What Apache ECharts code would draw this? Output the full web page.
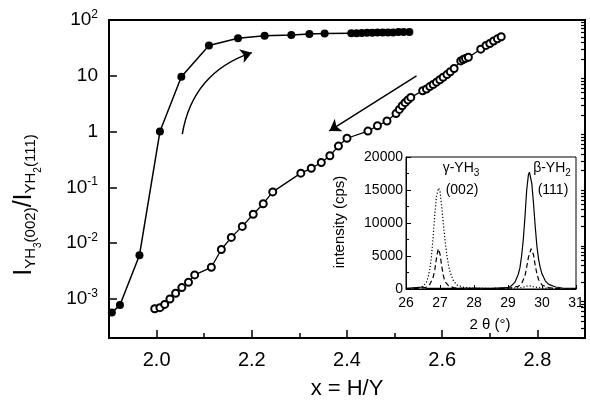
<!DOCTYPE html>
<html><head><meta charset="utf-8">
<script src="https://cdn.jsdelivr.net/npm/echarts@6/dist/echarts.min.js"></script>
<style>html,body{margin:0;padding:0;background:#fff}#c{width:590px;height:408px}</style>
</head><body><div id="c"></div>
<script>
// ---- main plot data: x = H/Y, ratio I_YH3(002)/I_YH2(111)
const loadX = [1.906,1.923,1.964,2.007,2.052,2.110,2.171,2.227,2.283,2.321,2.353,2.409,2.420,2.431,2.442,2.453,2.464,2.475,2.486,2.497,2.508,2.519,2.531];
const loadY = [5.7e-4,7.8e-4,6.1e-3,1.0,9.6,35,47,52,54,56,57,58,58,58.5,59,59,59.5,60,60,60,61,61,61];
const unloadX = [1.996,2.007,2.017,2.028,2.040,2.053,2.067,2.080,2.115,2.136,2.157,2.180,2.203,2.224,2.244,2.303,2.325,2.346,2.364,2.382,2.400,2.444,2.464,2.484,2.503,2.510,2.516,2.522,2.528,2.534,2.559,2.567,2.574,2.581,2.588,2.595,2.602,2.610,2.617,2.625,2.639,2.644,2.649,2.655,2.681,2.692,2.700,2.708,2.716,2.724];
const unloadY = [6.7e-4,7.0e-4,8.0e-4,1.0e-3,1.27e-3,1.6e-3,2.0e-3,2.7e-3,3.7e-3,7.7e-3,1.27e-2,2.0e-2,3.3e-2,5.1e-2,8.3e-2,0.18,0.22,0.28,0.37,0.55,0.76,1.02,1.27,1.55,2.1,2.5,2.9,3.3,3.7,4.1,5.4,5.8,6.4,7.0,7.7,8.5,9.4,10.5,11.8,13.5,18.5,19.5,20.5,21.5,30,35,38,42,46,50];
const xMajorTicks = [2.0,2.2,2.4,2.6,2.8];
const xMinorTicks = [2.1,2.3,2.5,2.7];
const yMajorTicks = [1e-3,1e-2,1e-1,1,10,100];
const yMinorTicks = [2e-4,3e-4,4e-4,5e-4,6e-4,7e-4,8e-4,9e-4,2e-3,3e-3,4e-3,5e-3,6e-3,7e-3,8e-3,9e-3,0.02,0.03,0.04,0.05,0.06,0.07,0.08,0.09,0.2,0.3,0.4,0.5,0.6,0.7,0.8,0.9,2,3,4,5,6,7,8,9,20,30,40,50,60,70,80,90];
// arrows (annotation, data coords)
const arrowUp = [[2.054,0.9],[2.200,26]];
const arrowDown = [[2.546,10],[2.363,1.03]];

// ---- inset data: intensity (cps) vs 2 theta (deg)
const dotX = [26.0,26.2,26.4,26.5,26.6,26.65,26.7,26.75,26.8,26.85,26.9,26.96,27.0,27.05,27.1,27.15,27.2,27.25,27.3,27.4,27.5,27.7,28.0,28.5,29.0,29.4,29.6,29.8,30.0,30.5,31.0];
const dotY = [0,100,200,400,1000,1800,3000,5000,8000,11500,14200,15300,14800,12500,9800,7300,5200,3600,2500,1200,600,250,100,100,100,200,500,300,150,50,0];
const dashX = [26.0,26.5,26.6,26.7,26.8,26.85,26.9,26.95,27.0,27.05,27.1,27.15,27.25,27.4,27.6,28.0,29.0,29.3,29.4,29.5,29.55,29.6,29.68,29.75,29.8,29.85,29.9,30.0,30.2,30.5,31.0];
const dashY = [0,150,300,700,1800,3000,4800,6100,5300,3500,2000,1100,500,200,100,50,100,400,800,2000,3300,4800,6100,5200,3600,2300,1400,600,200,50,0];
const solidX = [26.0,26.5,26.6,27.0,27.5,28.0,28.5,29.0,29.1,29.2,29.3,29.35,29.4,29.45,29.5,29.55,29.6,29.63,29.7,29.75,29.8,29.85,29.9,29.95,30.0,30.1,30.2,30.4,30.6,31.0];
const solidY = [100,300,100,100,100,150,100,200,500,1000,2200,3200,5000,7500,11000,15000,17300,17700,16000,13000,9500,6500,4500,3200,2300,1200,700,300,150,100];

const zip = (a,b) => a.map((v,i) => [v,b[i]]);
const FONT = '"Liberation Sans", Arial, sans-serif';
const K = '#000';

const chart = echarts.init(document.getElementById('c'), null, {renderer:'canvas'});
const supFmt = v => {
  const e = Math.round(Math.log10(v));
  if (e === 0) return '{b|1}';
  if (e === 1) return '{b|10}';
  return '{b|10}{sup|' + e + '}';
};

chart.setOption({
  animation: false,
  backgroundColor: '#fff',
  textStyle: {fontFamily: FONT, color: K},
  grid: [
    {left:109, top:20, right:5, bottom:70, show:true, borderColor:K, borderWidth:2, backgroundColor:'transparent'},
    {left:406, top:157, width:170, height:132, show:true, borderColor:K, borderWidth:1, backgroundColor:'#fff', z:5}
  ],
  xAxis: [
    {type:'value', gridIndex:0, min:1.9, max:2.9, position:'bottom',
     name:'x = H/Y', nameLocation:'middle', nameGap:40, nameTextStyle:{fontSize:22, color:K, fontFamily:FONT},
     axisLine:{lineStyle:{color:K, width:2}},
     axisTick:{inside:true, length:8, customValues:xMajorTicks, lineStyle:{color:K, width:1.5}},
     axisLabel:{customValues:xMajorTicks, formatter:v=>v.toFixed(1), fontSize:20, margin:12, color:K, fontFamily:FONT},
     splitLine:{show:false}},
    {type:'value', gridIndex:0, min:1.9, max:2.9, position:'bottom',
     axisLine:{show:false},
     axisTick:{inside:true, length:5, customValues:xMinorTicks, lineStyle:{color:K, width:1.5}},
     axisLabel:{show:false}, splitLine:{show:false}},
    {type:'value', gridIndex:1, min:26, max:31, interval:1, z:6,
     axisLine:{lineStyle:{color:K, width:1}},
     axisTick:{inside:true, length:4, lineStyle:{color:K}},
     axisLabel:{fontSize:14, margin:7, color:K, fontFamily:FONT},
     splitLine:{show:false}}
  ],
  yAxis: [
    {type:'log', logBase:10, gridIndex:0, min:2e-4, max:100,
     axisLine:{lineStyle:{color:K, width:2}},
     axisTick:{inside:true, length:8, customValues:yMajorTicks, lineStyle:{color:K, width:1.5}},
     axisLabel:{customValues:yMajorTicks, formatter:supFmt, margin:11, color:K,
       rich:{b:{fontSize:19, fontFamily:FONT, color:K}, sup:{fontSize:12, fontFamily:FONT, color:K, padding:[0,0,11,0]}}},
     splitLine:{show:false}},
    {type:'log', logBase:10, gridIndex:0, min:2e-4, max:100,
     axisLine:{show:false},
     axisTick:{inside:true, length:4, customValues:yMinorTicks, lineStyle:{color:K, width:1.2}},
     axisLabel:{show:false}, splitLine:{show:false}},
    {type:'value', gridIndex:1, min:0, max:20000, interval:5000, z:6,
     axisLine:{lineStyle:{color:K, width:1}},
     axisTick:{inside:true, length:5, lineStyle:{color:K}},
     minorTick:{show:true, splitNumber:2, length:3, lineStyle:{color:K}},
     axisLabel:{fontSize:14, margin:3, color:K, fontFamily:FONT, formatter:v=>String(v)},
     splitLine:{show:false}}
  ],
  series: [
    {type:'line', name:'loading', xAxisIndex:0, yAxisIndex:0, data:zip(loadX,loadY),
     symbol:'circle', symbolSize:8, itemStyle:{color:K}, lineStyle:{color:K, width:1.5}},
    {type:'line', name:'unloading', xAxisIndex:0, yAxisIndex:0, data:zip(unloadX,unloadY),
     symbol:'emptyCircle', symbolSize:7, showAllSymbol:true,
     itemStyle:{color:K, borderColor:K, borderWidth:1},
     lineStyle:{color:K, width:1.3}},
    {type:'lines', coordinateSystem:'cartesian2d', xAxisIndex:0, yAxisIndex:0, silent:true,
     symbol:['none','arrow'], symbolSize:[8,11],
     lineStyle:{color:K, width:1.5, curveness:0.3, opacity:1},
     data:[{coords:arrowUp}]},
    {type:'lines', coordinateSystem:'cartesian2d', xAxisIndex:0, yAxisIndex:0, silent:true,
     symbol:['none','arrow'], symbolSize:[8,11],
     lineStyle:{color:K, width:1.5, curveness:0, opacity:1},
     data:[{coords:arrowDown}]},
    {type:'line', xAxisIndex:2, yAxisIndex:2, data:zip(dotX,dotY), showSymbol:false, z:7,
     lineStyle:{color:K, width:1.2, type:[1.2,2]}},
    {type:'line', xAxisIndex:2, yAxisIndex:2, data:zip(dashX,dashY), showSymbol:false, z:7,
     lineStyle:{color:K, width:1.2, type:[5,3]}},
    {type:'line', xAxisIndex:2, yAxisIndex:2, data:zip(solidX,solidY), showSymbol:false, z:7,
     lineStyle:{color:K, width:1.2, type:'solid'}}
  ],
  graphic: [
    {type:'text', x:24, y:205, rotation:Math.PI/2, z:10,
     style:{text:'{I|I}{s|YH}{ss|3}{s|(002)}{I|/I}{s|YH}{ss|2}{s|(111)}', align:'center', verticalAlign:'middle',
       rich:{I:{fontSize:25, fontFamily:FONT, fill:K},
             s:{fontSize:15, fontFamily:FONT, fill:K, padding:[14,0,0,0]},
             ss:{fontSize:10, fontFamily:FONT, fill:K, padding:[28,0,0,0]}}}},
    {type:'text', x:340, y:222, rotation:Math.PI/2, z:10,
     style:{text:'intensity (cps)', fontSize:15, fontFamily:FONT, fill:K, align:'center', verticalAlign:'middle'}},
    {type:'text', x:490, y:325, z:10,
     style:{text:'2 θ (°)', fontSize:15, fontFamily:FONT, fill:K, align:'center', verticalAlign:'middle'}},
    {type:'text', x:461, y:168, z:10,
     style:{text:'{n|γ-YH}{s|3}', align:'center', verticalAlign:'middle',
       rich:{n:{fontSize:14, fontFamily:FONT, fill:K}, s:{fontSize:10, fontFamily:FONT, fill:K, padding:[10,0,0,0]}}}},
    {type:'text', x:462, y:190, z:10,
     style:{text:'(002)', fontSize:14, fontFamily:FONT, fill:K, align:'center', verticalAlign:'middle'}},
    {type:'text', x:552, y:168, z:10,
     style:{text:'{n|β-YH}{s|2}', align:'center', verticalAlign:'middle',
       rich:{n:{fontSize:14, fontFamily:FONT, fill:K}, s:{fontSize:10, fontFamily:FONT, fill:K, padding:[10,0,0,0]}}}},
    {type:'text', x:553, y:190, z:10,
     style:{text:'(111)', fontSize:14, fontFamily:FONT, fill:K, align:'center', verticalAlign:'middle'}}
  ]
});
</script>
</body></html>
